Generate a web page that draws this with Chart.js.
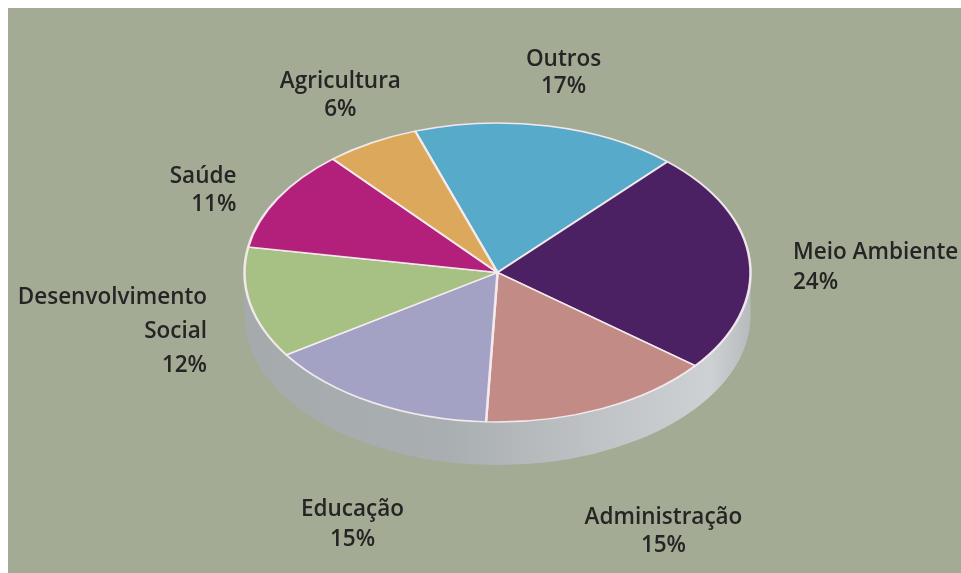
<!DOCTYPE html>
<html lang="pt">
<head>
<meta charset="utf-8">
<title>Distribuição por área</title>
<script src="https://cdn.jsdelivr.net/npm/chart.js@4/dist/chart.umd.min.js"></script>
<style>
  html, body { margin: 0; padding: 0; background: #fff; }
  #wrap { position: relative; width: 961px; height: 573px; }
</style>
</head>
<body>
<div id="wrap"><canvas id="pieChart"></canvas></div>
<script>
// dados, no sentido horário a partir do topo
const categories = ['Outros', 'Meio Ambiente', 'Administração', 'Educação', 'Desenvolvimento Social', 'Saúde', 'Agricultura'];
const percents = [17, 24, 15, 15, 12, 11, 6];
const sliceColors = ['#57aac9', '#4b2163', '#c28b85', '#a3a2c4', '#a6c183', '#b2207b', '#dca95c'];

// posição dos rótulos (frações do raio, a partir do centro da pizza)
const labelLayout = [
  { dx: 0.261, dy: -0.840, align: 'center', lh: 27 },
  { dx: 1.168, dy: -0.077, align: 'left', lh: 30 },
  { dx: 0.656, dy: 0.970, align: 'center', lh: 28 },
  { dx: -0.573, dy: 0.937, align: 'center', lh: 30 },
  { dx: -1.148, dy: 0.101, align: 'right', lh: 34, wrap: true },
  { dx: -1.032, dy: -0.380, align: 'right', lh: 28 },
  { dx: -0.621, dy: -0.754, align: 'center', lh: 28 }
];

const PANEL_INSET = 8;
const TILT = 0.591;   // achatamento vertical
const DEPTH = 43;     // espessura da lateral

const pie3d = {
  id: 'pie3d',
  beforeDraw(chart) {
    const { ctx, width, height } = chart;
    ctx.save();
    ctx.fillStyle = '#ffffff';
    ctx.fillRect(0, 0, width, height);
    ctx.fillStyle = '#a4ab94';
    ctx.fillRect(PANEL_INSET, PANEL_INSET, width - PANEL_INSET, height - PANEL_INSET);
    ctx.restore();
  },
  beforeDatasetsDraw(chart) {
    const { ctx } = chart;
    const arc = chart.getDatasetMeta(0).data[0];
    const cx = arc.x, cy = arc.y, rx = arc.outerRadius, ry = rx * TILT;

    // lateral cinza
    ctx.save();
    const g = ctx.createLinearGradient(cx - rx, 0, cx + rx, 0);
    g.addColorStop(0, '#a5aaac');
    g.addColorStop(0.4, '#a9aeb1');
    g.addColorStop(0.7, '#bfc3c6');
    g.addColorStop(0.92, '#cdd1d4');
    g.addColorStop(1, '#b7bbbe');
    ctx.fillStyle = g;
    ctx.beginPath();
    ctx.moveTo(cx - rx, cy);
    ctx.lineTo(cx - rx, cy + DEPTH);
    ctx.ellipse(cx, cy + DEPTH, rx, ry, 0, Math.PI, 0, true);
    ctx.lineTo(cx + rx, cy);
    ctx.ellipse(cx, cy, rx, ry, 0, 0, Math.PI, false);
    ctx.closePath();
    ctx.fill();
    ctx.restore();

    // achata o topo da pizza
    ctx.save();
    ctx.translate(0, cy);
    ctx.scale(1, TILT);
    ctx.translate(0, -cy);
  },
  afterDatasetsDraw(chart) {
    chart.ctx.restore();
  },
  afterDraw(chart) {
    const { ctx } = chart;
    const arc = chart.getDatasetMeta(0).data[0];
    const cx = arc.x, cy = arc.y, r = arc.outerRadius;
    ctx.save();
    ctx.fillStyle = '#252525';
    ctx.font = '600 22.5px "Open Sans", sans-serif';
    ctx.textBaseline = 'middle';
    categories.forEach((name, i) => {
      const lay = labelLayout[i];
      const lines = (lay.wrap ? name.split(' ') : [name]).concat(percents[i] + '%');
      ctx.textAlign = lay.align;
      const x = cx + lay.dx * r;
      const y = cy + lay.dy * r;
      lines.forEach((t, j) => ctx.fillText(t, x, y + j * lay.lh));
    });
    ctx.restore();
  }
};

new Chart(document.getElementById('pieChart'), {
  type: 'pie',
  data: {
    labels: categories,
    datasets: [{
      data: percents,
      backgroundColor: sliceColors,
      borderColor: 'rgba(246, 236, 240, 0.95)',
      borderWidth: 2.5,
      radius: 253,
      clip: false
    }]
  },
  options: {
    responsive: true,
    maintainAspectRatio: false,
    animation: false,
    events: [],
    rotation: -19,
    layout: { padding: { left: 34, right: 0, top: 0, bottom: 28 } },
    plugins: {
      legend: { display: false },
      tooltip: { enabled: false }
    }
  },
  plugins: [pie3d]
});
</script>
</body>
</html>
